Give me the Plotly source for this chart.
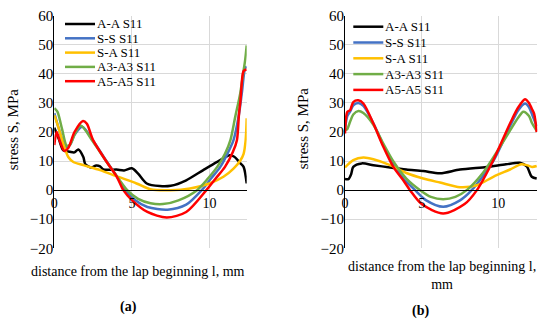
import plotly.graph_objects as go

# ---------------- data ----------------
series_names = ["A-A S11", "S-S S11", "S-A S11", "A3-A3 S11", "A5-A5 S11"]
series_colors = ["#000000", "#4472C4", "#FFC000", "#70AD47", "#FF0000"]

# panel (a)
a_AA_x = [0, 0.3, 0.58, 1.0, 1.3, 1.55, 1.87, 2.0, 2.4, 2.7, 2.95, 3.16, 3.6, 4.0, 4.5, 5.0, 5.4, 5.96, 6.8, 7.5, 8.5, 9.6, 10.5, 11.3, 11.6, 12.0, 12.2, 12.4]
a_AA_y = [21.5, 17.5, 13.7, 13.2, 13.0, 14.0, 11.4, 8.9, 7.8, 8.5, 8.2, 7.1, 7.0, 7.1, 6.8, 7.5, 5.7, 2.3, 1.4, 1.5, 3.4, 6.9, 9.7, 12.0, 11.5, 9.2, 8.0, 2.3]

a_SS_x = [0, 0.3, 0.7, 1.0, 1.3, 1.8, 2.5, 3.4, 4.0, 4.6, 5.2, 6.0, 7.3, 8.5, 9.5, 10.1, 10.7, 11.2, 11.55, 11.9, 12.1, 12.3, 12.4]
a_SS_y = [26.5, 21.0, 15.0, 15.5, 19.0, 21.8, 17.0, 9.7, 5.0, 0.0, -3.4, -5.8, -6.7, -5.0, 0.0, 4.0, 8.0, 13.0, 17.2, 26.0, 34.0, 42.0, 42.5]

a_SA_x = [0, 0.26, 0.58, 0.9, 1.23, 1.87, 2.95, 4.0, 5.3, 6.2, 7.5, 8.75, 10.0, 10.9, 11.55, 12.0, 12.2, 12.33, 12.4]
a_SA_y = [25.8, 21.7, 16.0, 11.4, 9.7, 8.6, 6.9, 4.8, 2.3, 0.3, 0.0, 0.6, 2.3, 4.6, 7.4, 10.3, 12.5, 17.0, 24.7]

a_A3_x = [0, 0.2, 0.5, 0.8, 1.0, 1.3, 1.7, 2.5, 3.4, 4.0, 4.7, 5.4, 6.2, 7.0, 8.0, 9.2, 9.9, 10.5, 11.0, 11.35, 11.66, 11.98, 12.2, 12.3, 12.4]
a_A3_y = [28.2, 27.0, 21.0, 15.3, 15.5, 19.0, 22.2, 16.6, 9.5, 5.0, 0.0, -3.0, -4.5, -4.8, -3.5, 0.0, 4.0, 8.0, 12.5, 17.2, 25.2, 33.2, 41.2, 44.7, 49.8]

a_A5_x = [0, 0.15, 0.35, 0.65, 0.9, 1.3, 1.85, 2.1, 2.5, 3.38, 4.03, 4.45, 5.0, 6.0, 7.25, 8.5, 9.8, 10.4, 11.0, 11.5, 11.77, 11.9, 12.0, 12.1, 12.2, 12.4]
a_A5_y = [15.5, 20.0, 17.0, 13.5, 14.5, 20.0, 23.8, 22.8, 17.2, 9.7, 4.6, 0.0, -3.4, -7.5, -9.4, -7.5, 0.0, 4.0, 8.0, 13.0, 17.2, 26.0, 31.0, 38.0, 41.0, 41.5]

# panel (b)
b_AA_x = [0, 0.22, 0.4, 0.54, 1.09, 1.85, 2.94, 4.0, 5.1, 6.2, 7.5, 9.24, 10.5, 11.4, 11.85, 12.18, 12.5]
b_AA_y = [3.8, 3.8, 5.5, 8.0, 9.2, 8.6, 7.8, 7.1, 6.6, 5.8, 7.1, 8.0, 8.9, 9.4, 8.2, 4.6, 4.0]

b_SS_x = [0, 0.15, 0.33, 0.54, 0.87, 1.2, 1.85, 2.5, 3.15, 3.8, 4.57, 5.3, 6.4, 7.5, 8.26, 9.67, 10.76, 11.3, 11.74, 12.0, 12.2, 12.5]
b_SS_y = [21.0, 25.5, 27.0, 29.2, 30.0, 29.0, 23.0, 15.5, 8.8, 4.0, 0.0, -3.5, -5.7, -3.5, 0.0, 10.0, 22.0, 27.5, 29.8, 28.5, 26.0, 22.0]

b_SA_x = [0, 0.54, 1.2, 1.85, 2.94, 4.0, 5.1, 6.2, 7.5, 8.6, 9.67, 10.76, 11.5, 11.85, 12.2, 12.5]
b_SA_y = [7.8, 10.3, 11.2, 10.6, 8.6, 5.9, 4.0, 2.6, 1.0, 1.7, 4.6, 7.1, 8.9, 8.6, 8.0, 8.3]

b_A3_x = [0, 0.15, 0.33, 0.54, 0.87, 1.2, 1.85, 2.5, 3.2, 4.0, 4.9, 5.6, 6.4, 7.2, 7.94, 9.0, 10.0, 10.76, 11.3, 11.63, 12.0, 12.2, 12.5]
b_A3_y = [20.6, 21.0, 23.5, 26.0, 27.2, 26.5, 22.5, 16.0, 9.5, 4.0, 0.0, -2.3, -3.1, -2.3, 0.0, 6.0, 14.0, 20.5, 25.0, 27.0, 25.5, 23.0, 20.4]

b_A5_x = [0, 0.15, 0.33, 0.54, 0.87, 1.2, 1.85, 2.5, 3.15, 3.8, 4.24, 5.0, 6.4, 7.8, 8.6, 9.67, 10.76, 11.3, 11.74, 12.0, 12.18, 12.33, 12.5]
b_A5_y = [19.5, 26.9, 27.5, 30.3, 30.9, 29.8, 22.9, 14.9, 8.0, 3.4, 0.0, -4.8, -8.0, -4.8, 0.0, 10.3, 22.9, 28.5, 31.3, 30.0, 28.0, 26.3, 20.0]

panel_a = [(a_AA_x, a_AA_y), (a_SS_x, a_SS_y), (a_SA_x, a_SA_y), (a_A3_x, a_A3_y), (a_A5_x, a_A5_y)]
panel_b = [(b_AA_x, b_AA_y), (b_SS_x, b_SS_y), (b_SA_x, b_SA_y), (b_A3_x, b_A3_y), (b_A5_x, b_A5_y)]

x_ticks = [0, 5, 10]
y_ticks = [-20, -10, 0, 10, 20, 30, 40, 50, 60]
x_title = "distance from the lap beginning l, mm"
x_title_b = "distance from the lap beginning l,<br>mm"
y_title = "stress S, MPa"
captions = ["(a)", "(b)"]

# ---------------- layout ----------------
W, H = 550, 325
FONT = "Liberation Serif, Times New Roman, serif"
GRID = "#D9D9D9"

ydom = [1 - 248.3 / H, 1 - 15.7 / H]
xdom_a = [54.3 / W, 246.7 / W]
xdom_b = [345.0 / W, 537.3 / W]
yr = [-20, 60]
zero_pos = ydom[0] + (0 - yr[0]) / (yr[1] - yr[0]) * (ydom[1] - ydom[0])

fig = go.Figure()
for i, (x, y) in enumerate(panel_a):
    fig.add_trace(go.Scatter(x=x, y=y, mode="lines", name=series_names[i],
                             line=dict(color=series_colors[i], width=2.5, shape="spline", smoothing=0.8),
                             xaxis="x", yaxis="y", showlegend=False))
for i, (x, y) in enumerate(panel_b):
    fig.add_trace(go.Scatter(x=x, y=y, mode="lines", name=series_names[i],
                             line=dict(color=series_colors[i], width=2.5, shape="spline", smoothing=0.8),
                             xaxis="x2", yaxis="y2", showlegend=False))

xcommon = dict(tickvals=x_ticks, showgrid=True, gridcolor=GRID, gridwidth=1,
               showline=True, linecolor="black", linewidth=1, zeroline=False,
               ticks="", tickfont=dict(family=FONT, size=14, color="black"),
               anchor="free", position=zero_pos, automargin=False)
ycommon = dict(range=yr, tickvals=y_ticks, showgrid=True, gridcolor=GRID, gridwidth=1,
               showline=True, linecolor="black", linewidth=1, zeroline=False,
               ticks="", tickfont=dict(family=FONT, size=15, color="black"),
               ticklabelstandoff=-3,
               domain=ydom, automargin=False)

fig.update_layout(
    template="none",
    width=W, height=H,
    margin=dict(l=0, r=0, t=0, b=0, pad=0),
    paper_bgcolor="white", plot_bgcolor="white",
    showlegend=False,
    font=dict(family=FONT, size=14, color="black"),
    xaxis=dict(domain=xdom_a, range=[0, 12.4], **xcommon),
    xaxis2=dict(domain=xdom_b, range=[0, 12.54], **xcommon),
    yaxis=dict(anchor="x", **ycommon),
    yaxis2=dict(anchor="x2", **ycommon),
)

# manual legends (inside each panel, top-left)
legend_specs = [
    dict(xr="x domain", yr="y domain", x0=(65 - 54.3) / 192.4, x1=(95 - 54.3) / 192.4,
         top=24.0, step=14.3),
    dict(xr="x2 domain", yr="y2 domain", x0=(353.3 - 345) / 192.3, x1=(383.3 - 345) / 192.3,
         top=26.7, step=15.8),
]
for spec in legend_specs:
    for i, name in enumerate(series_names):
        py = spec["top"] + i * spec["step"]
        yd = (248.3 - py) / 232.6
        fig.add_shape(type="line", xref=spec["xr"], yref=spec["yr"],
                      x0=spec["x0"], x1=spec["x1"], y0=yd, y1=yd,
                      line=dict(color=series_colors[i], width=2.5))
        fig.add_annotation(xref=spec["xr"], yref=spec["yr"], x=spec["x1"] + 0.005, y=yd,
                           text=name, showarrow=False, xanchor="left", yanchor="middle",
                           borderpad=0,
                           font=dict(family=FONT, size=13, color="black"))

# axis titles
fig.add_annotation(xref="paper", yref="paper", x=138 / W, y=1 - 271.7 / H, text=x_title,
                   showarrow=False, xanchor="center", yanchor="middle",
                   font=dict(family=FONT, size=14))
fig.add_annotation(xref="paper", yref="paper", x=442 / W, y=1 - 275 / H, text=x_title_b,
                   showarrow=False, xanchor="center", yanchor="middle", align="center",
                   font=dict(family=FONT, size=14))
fig.add_annotation(xref="paper", yref="paper", x=13.3 / W, y=1 - 129 / H, text=y_title,
                   showarrow=False, textangle=-90, xanchor="center", yanchor="middle",
                   font=dict(family=FONT, size=15))
fig.add_annotation(xref="paper", yref="paper", x=303.3 / W, y=1 - 128 / H, text=y_title,
                   showarrow=False, textangle=-90, xanchor="center", yanchor="middle",
                   font=dict(family=FONT, size=15))
# captions
fig.add_annotation(xref="paper", yref="paper", x=128 / W, y=1 - 306.7 / H, text="<b>" + captions[0] + "</b>",
                   showarrow=False, xanchor="center", yanchor="middle",
                   font=dict(family=FONT, size=14))
fig.add_annotation(xref="paper", yref="paper", x=420 / W, y=1 - 310.7 / H, text="<b>" + captions[1] + "</b>",
                   showarrow=False, xanchor="center", yanchor="middle",
                   font=dict(family=FONT, size=14))

fig.write_html("out.html", config={"displayModeBar": False},
               post_script="document.body.style.margin='0px';")
